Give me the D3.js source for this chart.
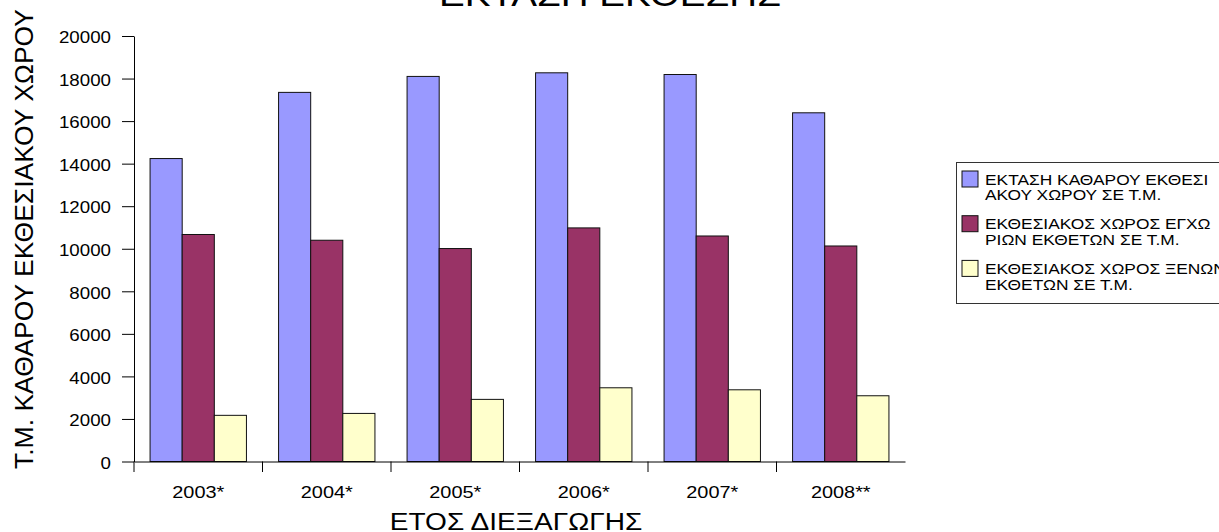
<!DOCTYPE html>
<html>
<head>
<meta charset="utf-8">
<script src="https://cdn.jsdelivr.net/npm/d3@7"></script>
<style>
  html, body { margin: 0; padding: 0; background: #fff; }
  svg { display: block; font-family: "Liberation Sans", Arial, sans-serif; }
</style>
</head>
<body>
<svg id="chart" width="1219" height="532"></svg>
<script>
// Exhibition space per year (square metres)
const years = ["2003*", "2004*", "2005*", "2006*", "2007*", "2008**"];
const netSpace      = [14240, 17350, 18100, 18270, 18190, 16390];
const domesticSpace = [10670, 10400, 10010, 10980, 10600, 10130];
const foreignSpace  = [2170, 2260, 2920, 3465, 3370, 3090];
const yTicks = [0, 2000, 4000, 6000, 8000, 10000, 12000, 14000, 16000, 18000, 20000];

const seriesNames = [
  ["ΕΚΤΑΣΗ ΚΑΘΑΡΟΥ ΕΚΘΕΣΙ", "ΑΚΟΥ ΧΩΡΟΥ ΣΕ Τ.Μ."],
  ["ΕΚΘΕΣΙΑΚΟΣ ΧΩΡΟΣ ΕΓΧΩ", "ΡΙΩΝ ΕΚΘΕΤΩΝ ΣΕ Τ.Μ."],
  ["ΕΚΘΕΣΙΑΚΟΣ ΧΩΡΟΣ ΞΕΝΩΝ", "ΕΚΘΕΤΩΝ ΣΕ Τ.Μ."]
];
const seriesColors = ["#9999FF", "#993366", "#FFFFCC"];
const seriesValues = [netSpace, domesticSpace, foreignSpace];

const stretch = 1.17; // wide lettering
const svg = d3.select("#chart");

const plot = { left: 134, right: 905, top: 36, bottom: 461.5 };

const x = d3.scaleBand()
  .domain(years)
  .range([plot.left, plot.right])
  .paddingInner(0.25)
  .paddingOuter(0.125);

const xs = d3.scaleBand()
  .domain(d3.range(seriesValues.length))
  .range([0, x.bandwidth()]);

const y = d3.scaleLinear()
  .domain([0, 20000])
  .range([plot.bottom, plot.top]);

// Title (partly above the top edge)
svg.append("text")
  .attr("transform", `translate(610,6) scale(${stretch},1)`)
  .attr("text-anchor", "middle")
  .attr("font-size", 33)
  .text("ΕΚΤΑΣΗ ΕΚΘΕΣΗΣ");

// Bars
const rows = years.map((yr, i) => ({ yr, vals: seriesValues.map(s => s[i]) }));
const groups = svg.append("g").selectAll("g")
  .data(rows)
  .join("g")
  .attr("transform", d => `translate(${x(d.yr)},0)`);

groups.selectAll("rect")
  .data(d => d.vals.map((v, k) => ({ v, k })))
  .join("rect")
  .attr("x", d => xs(d.k))
  .attr("y", d => y(d.v))
  .attr("width", xs.bandwidth())
  .attr("height", d => y(0) - y(d.v))
  .attr("fill", d => seriesColors[d.k])
  .attr("stroke", "#111")
  .attr("stroke-width", 1);

// Y axis
const yAxis = svg.append("g")
  .attr("transform", `translate(${plot.left},0)`)
  .call(d3.axisLeft(y).tickValues(yTicks).tickFormat(d3.format("d"))
    .tickSize(12).tickPadding(11).tickSizeOuter(0));
yAxis.select(".domain").attr("stroke", "#000");
yAxis.selectAll(".tick line").attr("stroke", "#000");
yAxis.selectAll(".tick text")
  .attr("font-size", 16)
  .attr("font-family", "Liberation Sans, Arial, sans-serif")
  .attr("fill", "#000")
  .attr("x", -23 / stretch)
  .attr("dy", "0.42em")
  .attr("transform", `scale(${stretch},1)`);

// X axis: labels centred on groups, ticks at group boundaries
const xAxis = svg.append("g")
  .attr("transform", `translate(0,${plot.bottom})`)
  .call(d3.axisBottom(x).tickSize(0).tickPadding(24.5).tickSizeOuter(0));
xAxis.select(".domain").attr("stroke", "#000");
xAxis.selectAll(".tick text")
  .attr("font-size", 17)
  .attr("font-family", "Liberation Sans, Arial, sans-serif")
  .attr("fill", "#000")
  .attr("transform", `scale(${stretch},1)`);

xAxis.selectAll(".boundary")
  .data(years)
  .join("line")
  .attr("class", "boundary")
  .attr("x1", (d, i) => x.range()[0] + i * x.step())
  .attr("x2", (d, i) => x.range()[0] + i * x.step())
  .attr("y1", 0)
  .attr("y2", 10.5)
  .attr("stroke", "#000");

// Axis titles
svg.append("text")
  .attr("transform", `translate(516,530) scale(${stretch},1)`)
  .attr("text-anchor", "middle")
  .attr("font-size", 24)
  .text("ΕΤΟΣ ΔΙΕΞΑΓΩΓΗΣ");

svg.append("text")
  .attr("transform", "translate(33,239) rotate(-90)")
  .attr("text-anchor", "middle")
  .attr("font-size", 26.5)
  .text("Τ.Μ. ΚΑΘΑΡΟΥ ΕΚΘΕΣΙΑΚΟΥ ΧΩΡΟΥ");

// Legend
const legendStretch = 1.12;
const legend = svg.append("g").attr("transform", "translate(956,162)");
legend.append("rect")
  .attr("x", 0.5).attr("y", 0.5)
  .attr("width", 280).attr("height", 141)
  .attr("fill", "#fff")
  .attr("stroke", "#333");

const items = legend.selectAll("g.item")
  .data(seriesNames)
  .join("g")
  .attr("class", "item")
  .attr("transform", (d, i) => `translate(6,${9 + i * 44.7})`);

items.append("rect")
  .attr("width", 16).attr("height", 16)
  .attr("fill", (d, i) => seriesColors[i])
  .attr("stroke", "#111");

items.each(function(lines) {
  const g = d3.select(this);
  lines.forEach((ln, j) => {
    g.append("text")
      .attr("transform", `translate(23,${13.5 + j * 15.7}) scale(${legendStretch},1)`)
      .attr("font-size", 15.5)
      .text(ln);
  });
});
</script>
</body>
</html>
